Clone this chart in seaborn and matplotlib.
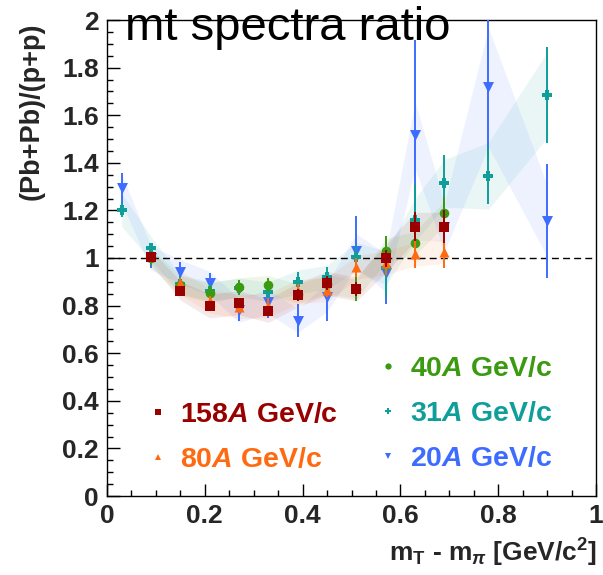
import matplotlib
matplotlib.use("Agg")
import matplotlib.pyplot as plt
import seaborn as sns
from matplotlib.lines import Line2D
from matplotlib.ticker import MultipleLocator, FuncFormatter

# m_T - m_pi bin centres [GeV/c^2]
mt_all = [0.03, 0.09, 0.15, 0.21, 0.27, 0.33, 0.39, 0.45, 0.51, 0.57, 0.63, 0.69, 0.78, 0.90]
mt_158 = [0.09, 0.15, 0.21, 0.27, 0.33, 0.39, 0.45, 0.51, 0.57, 0.63, 0.69]
mt_80 = [0.15, 0.21, 0.27, 0.33, 0.39, 0.45, 0.51, 0.57, 0.63, 0.69]
mt_40 = [0.09, 0.15, 0.21, 0.27, 0.33, 0.39, 0.45, 0.51, 0.57, 0.63, 0.69]

# (Pb+Pb)/(p+p) ratios, statistical errors and systematic band half-widths
r_20 = [1.293, 1.00, 0.943, 0.894, 0.78, 0.816, 0.737, 0.835, 1.031, 0.938, 1.517, 1.13, 1.717, 1.157]
e_20 = [0.065, 0.04, 0.04, 0.045, 0.045, 0.07, 0.07, 0.10, 0.145, 0.13, 0.40, 0.06, 0.30, 0.24]
s_20 = [0.06, 0.05, 0.05, 0.05, 0.05, 0.05, 0.05, 0.06, 0.07, 0.08, 0.14, 0.10, 0.25, 0.15]

r_31 = [1.202, 1.04, 0.89, 0.86, 0.875, 0.858, 0.90, 0.919, 1.006, 0.957, 1.16, 1.314, 1.345, 1.685]
e_31 = [0.03, 0.025, 0.03, 0.03, 0.03, 0.03, 0.04, 0.045, 0.05, 0.12, 0.15, 0.12, 0.12, 0.20]
s_31 = [0.07, 0.05, 0.04, 0.04, 0.04, 0.04, 0.05, 0.05, 0.06, 0.07, 0.09, 0.10, 0.14, 0.18]

r_40 = [1.0, 0.885, 0.854, 0.877, 0.887, 0.85, 0.89, 0.87, 1.031, 1.062, 1.188]
e_40 = [0.03, 0.03, 0.03, 0.03, 0.03, 0.03, 0.03, 0.05, 0.06, 0.06, 0.07]
s_40 = [0.04, 0.04, 0.04, 0.04, 0.04, 0.04, 0.04, 0.04, 0.05, 0.05, 0.05]

r_80 = [0.896, 0.82, 0.795, 0.80, 0.86, 0.866, 0.961, 0.98, 1.017, 1.027]
e_80 = [0.02, 0.02, 0.025, 0.03, 0.03, 0.03, 0.04, 0.05, 0.06, 0.07]
s_80 = [0.05, 0.05, 0.05, 0.05, 0.05, 0.05, 0.05, 0.05, 0.05, 0.05]

r_158 = [1.005, 0.863, 0.798, 0.812, 0.779, 0.845, 0.894, 0.869, 0.998, 1.132, 1.132]
e_158 = [0.02, 0.02, 0.02, 0.02, 0.02, 0.025, 0.03, 0.03, 0.035, 0.06, 0.07]
s_158 = [0.03, 0.04, 0.05, 0.05, 0.05, 0.05, 0.05, 0.05, 0.06, 0.06, 0.06]

labels = ["20$A$ GeV/c", "31$A$ GeV/c", "40$A$ GeV/c", "80$A$ GeV/c", "158$A$ GeV/c"]
colors = ["#3d6cff", "#0f9e9a", "#3a9a10", "#ff6a10", "#990000"]
markers = ["v", "P", "o", "^", "s"]
sizes = [62, 62, 48, 52, 60]

series = [
    (mt_all, r_20, e_20, s_20),
    (mt_all, r_31, e_31, s_31),
    (mt_40, r_40, e_40, s_40),
    (mt_80, r_80, e_80, s_80),
    (mt_158, r_158, e_158, s_158),
]

sns.set_theme(style="ticks")
plt.rcParams["font.family"] = ["Liberation Sans", "DejaVu Sans"]
plt.rcParams["font.weight"] = "bold"
plt.rcParams.update({
    "mathtext.fontset": "custom",
    "mathtext.rm": "Liberation Sans:bold",
    "mathtext.bf": "Liberation Sans:bold",
    "mathtext.it": "Liberation Sans:italic:bold",
})

W, H = 603, 575
fig = plt.figure(figsize=(W / 100, H / 100), dpi=100)
ax = fig.add_axes([107 / W, 1 - 496 / H, (596 - 107) / W, (496 - 20) / H])

# systematic bands
for (x, y, e, s), c in zip(series, colors):
    lo = [v - d for v, d in zip(y, s)]
    hi = [v + d for v, d in zip(y, s)]
    ax.fill_between(x, lo, hi, color=c, alpha=0.085, linewidth=0, zorder=1)

ax.axhline(1.0, color="black", lw=1.0, ls=(0, (5, 3)), zorder=2)

# points with statistical errors
for i, ((x, y, e, s), c, m, sz) in enumerate(zip(series, colors, markers, sizes)):
    z = 3 + 2 * i
    ax.errorbar(x, y, yerr=e, fmt="none", ecolor=c, elinewidth=1.4, capsize=0, zorder=z)
    sns.scatterplot(x=x, y=y, marker=m, s=sz, color=c, linewidth=0, ax=ax,
                    zorder=z + 1, legend=False)

ax.set_xlim(0, 1)
ax.set_ylim(0, 2)
ax.set_xlabel("")
ax.set_ylabel("")
fmt = FuncFormatter(lambda v, p: f"{v:g}")
for axis in (ax.xaxis, ax.yaxis):
    axis.set_major_locator(MultipleLocator(0.2))
    axis.set_minor_locator(MultipleLocator(0.05))
    axis.set_major_formatter(fmt)
ax.tick_params(which="both", direction="in", top=False, right=False,
               color="black", width=1.0)
ax.tick_params(which="major", length=9, labelsize=19, pad=6)
ax.tick_params(which="minor", length=4.5)
for sp in ax.spines.values():
    sp.set_visible(True)
    sp.set_color("black")
    sp.set_linewidth(1.0)

# legends
def handles(idx):
    return [Line2D([], [], marker=markers[i], color=colors[i], linestyle="none",
                   markersize=4.5, markeredgewidth=0) for i in idx]

leg_kw = dict(frameon=False, prop={"weight": "bold", "size": 20.5}, handlelength=0.8,
              handletextpad=0.36, labelspacing=0.67, borderpad=0, borderaxespad=0,
              loc="upper left")
right_idx = [2, 1, 0]
leg1 = ax.legend(handles(right_idx), [labels[i] for i in right_idx],
                 labelcolor=[colors[i] for i in right_idx],
                 bbox_to_anchor=((377 - 107) / 489, (496 - 356) / 476), **leg_kw)
ax.add_artist(leg1)
left_idx = [4, 3]
ax.legend(handles(left_idx), [labels[i] for i in left_idx],
          labelcolor=[colors[i] for i in left_idx],
          bbox_to_anchor=((147 - 107) / 489, (496 - 402) / 476), **leg_kw)

fig.text(32 / W, 1 - 22 / H, "(Pb+Pb)/(p+p)", rotation=90, ha="center", va="top",
         fontsize=19.5, fontweight="bold")
fig.text(597 / W, 1 - 562 / H, r"m$_\mathrm{T}$ - m$_\pi$ [GeV/c$^\mathrm{2}$]",
         ha="right", va="baseline", fontsize=19, fontweight="bold")
fig.text(125 / W, 1 - 40 / H, "mt spectra ratio", ha="left", va="baseline",
         fontsize=34, fontweight="normal", color="black")

fig.savefig("out.png", dpi=100)
